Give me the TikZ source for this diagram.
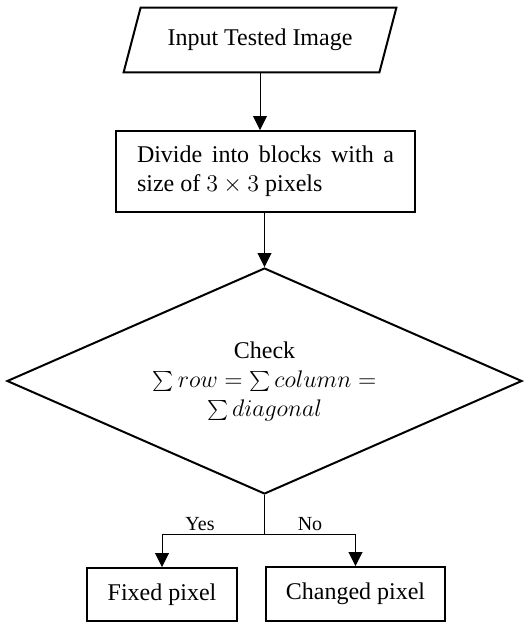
\documentclass[tikz,border=0pt]{standalone}
\usepackage{fontspec}
\setmainfont{Liberation Serif}
\usetikzlibrary{shapes.geometric,arrows.meta,calc}
\begin{document}
\begin{tikzpicture}[x=0.5pt,y=-0.5pt,
  box/.style={draw,line width=1pt,inner sep=0pt,font=\fontsize{12}{14.5}\selectfont},
  conn/.style={line width=0.5pt},
  arr/.style={conn,-{Triangle[length=7pt,width=7pt]}},
  lbl/.style={font=\fontsize{10}{12}\selectfont,inner sep=0pt}]
\useasboundingbox (0,0) rectangle (531,623);
% input parallelogram
\node[inner sep=0pt,minimum width=136pt,minimum height=32pt,font=\fontsize{12}{14.5}\selectfont] (in) at (260,40) {Input Tested Image};
\draw[line width=1pt] ($(in.north west)+(17,0)$) -- (in.north east) -- ($(in.south east)+(-17,0)$) -- (in.south west) -- cycle;
% divide box
\node[box,minimum width=149.5pt,minimum height=40.5pt,text width=128.5pt,align=justify] (div) at (265.5,171.5)
  {Divide into blocks with a size of $3\times 3$ pixels};
% decision diamond
\node[box,diamond,aspect=2.28,minimum width=257.5pt,minimum height=113pt,align=center] (dia) at (264.5,381)
  {Check\\$\sum row=\sum column=$\\$\sum diagonal$};
% outcome boxes
\node[box,minimum width=75pt,minimum height=26.5pt] (fixed) at (162,594.5) {Fixed pixel};
\node[box,minimum width=89.5pt,minimum height=27pt] (changed) at (355.5,594) {Changed pixel};
% connectors
\draw[arr] (in.south) -- (in.south |- div.north);
\draw[arr] (div.south -| dia.north) -- (dia.north);
\coordinate (split) at ($(dia.south)+(0,39)$);
\draw[conn] (dia.south) -- (split);
\draw[arr] (split) -| (fixed.north);
\draw[arr] (split) -| (changed.north);
\node[lbl] (yes) at (200,524) {Yes};
\node[lbl] (no) at (310,524) {No};
\end{tikzpicture}
\end{document}
